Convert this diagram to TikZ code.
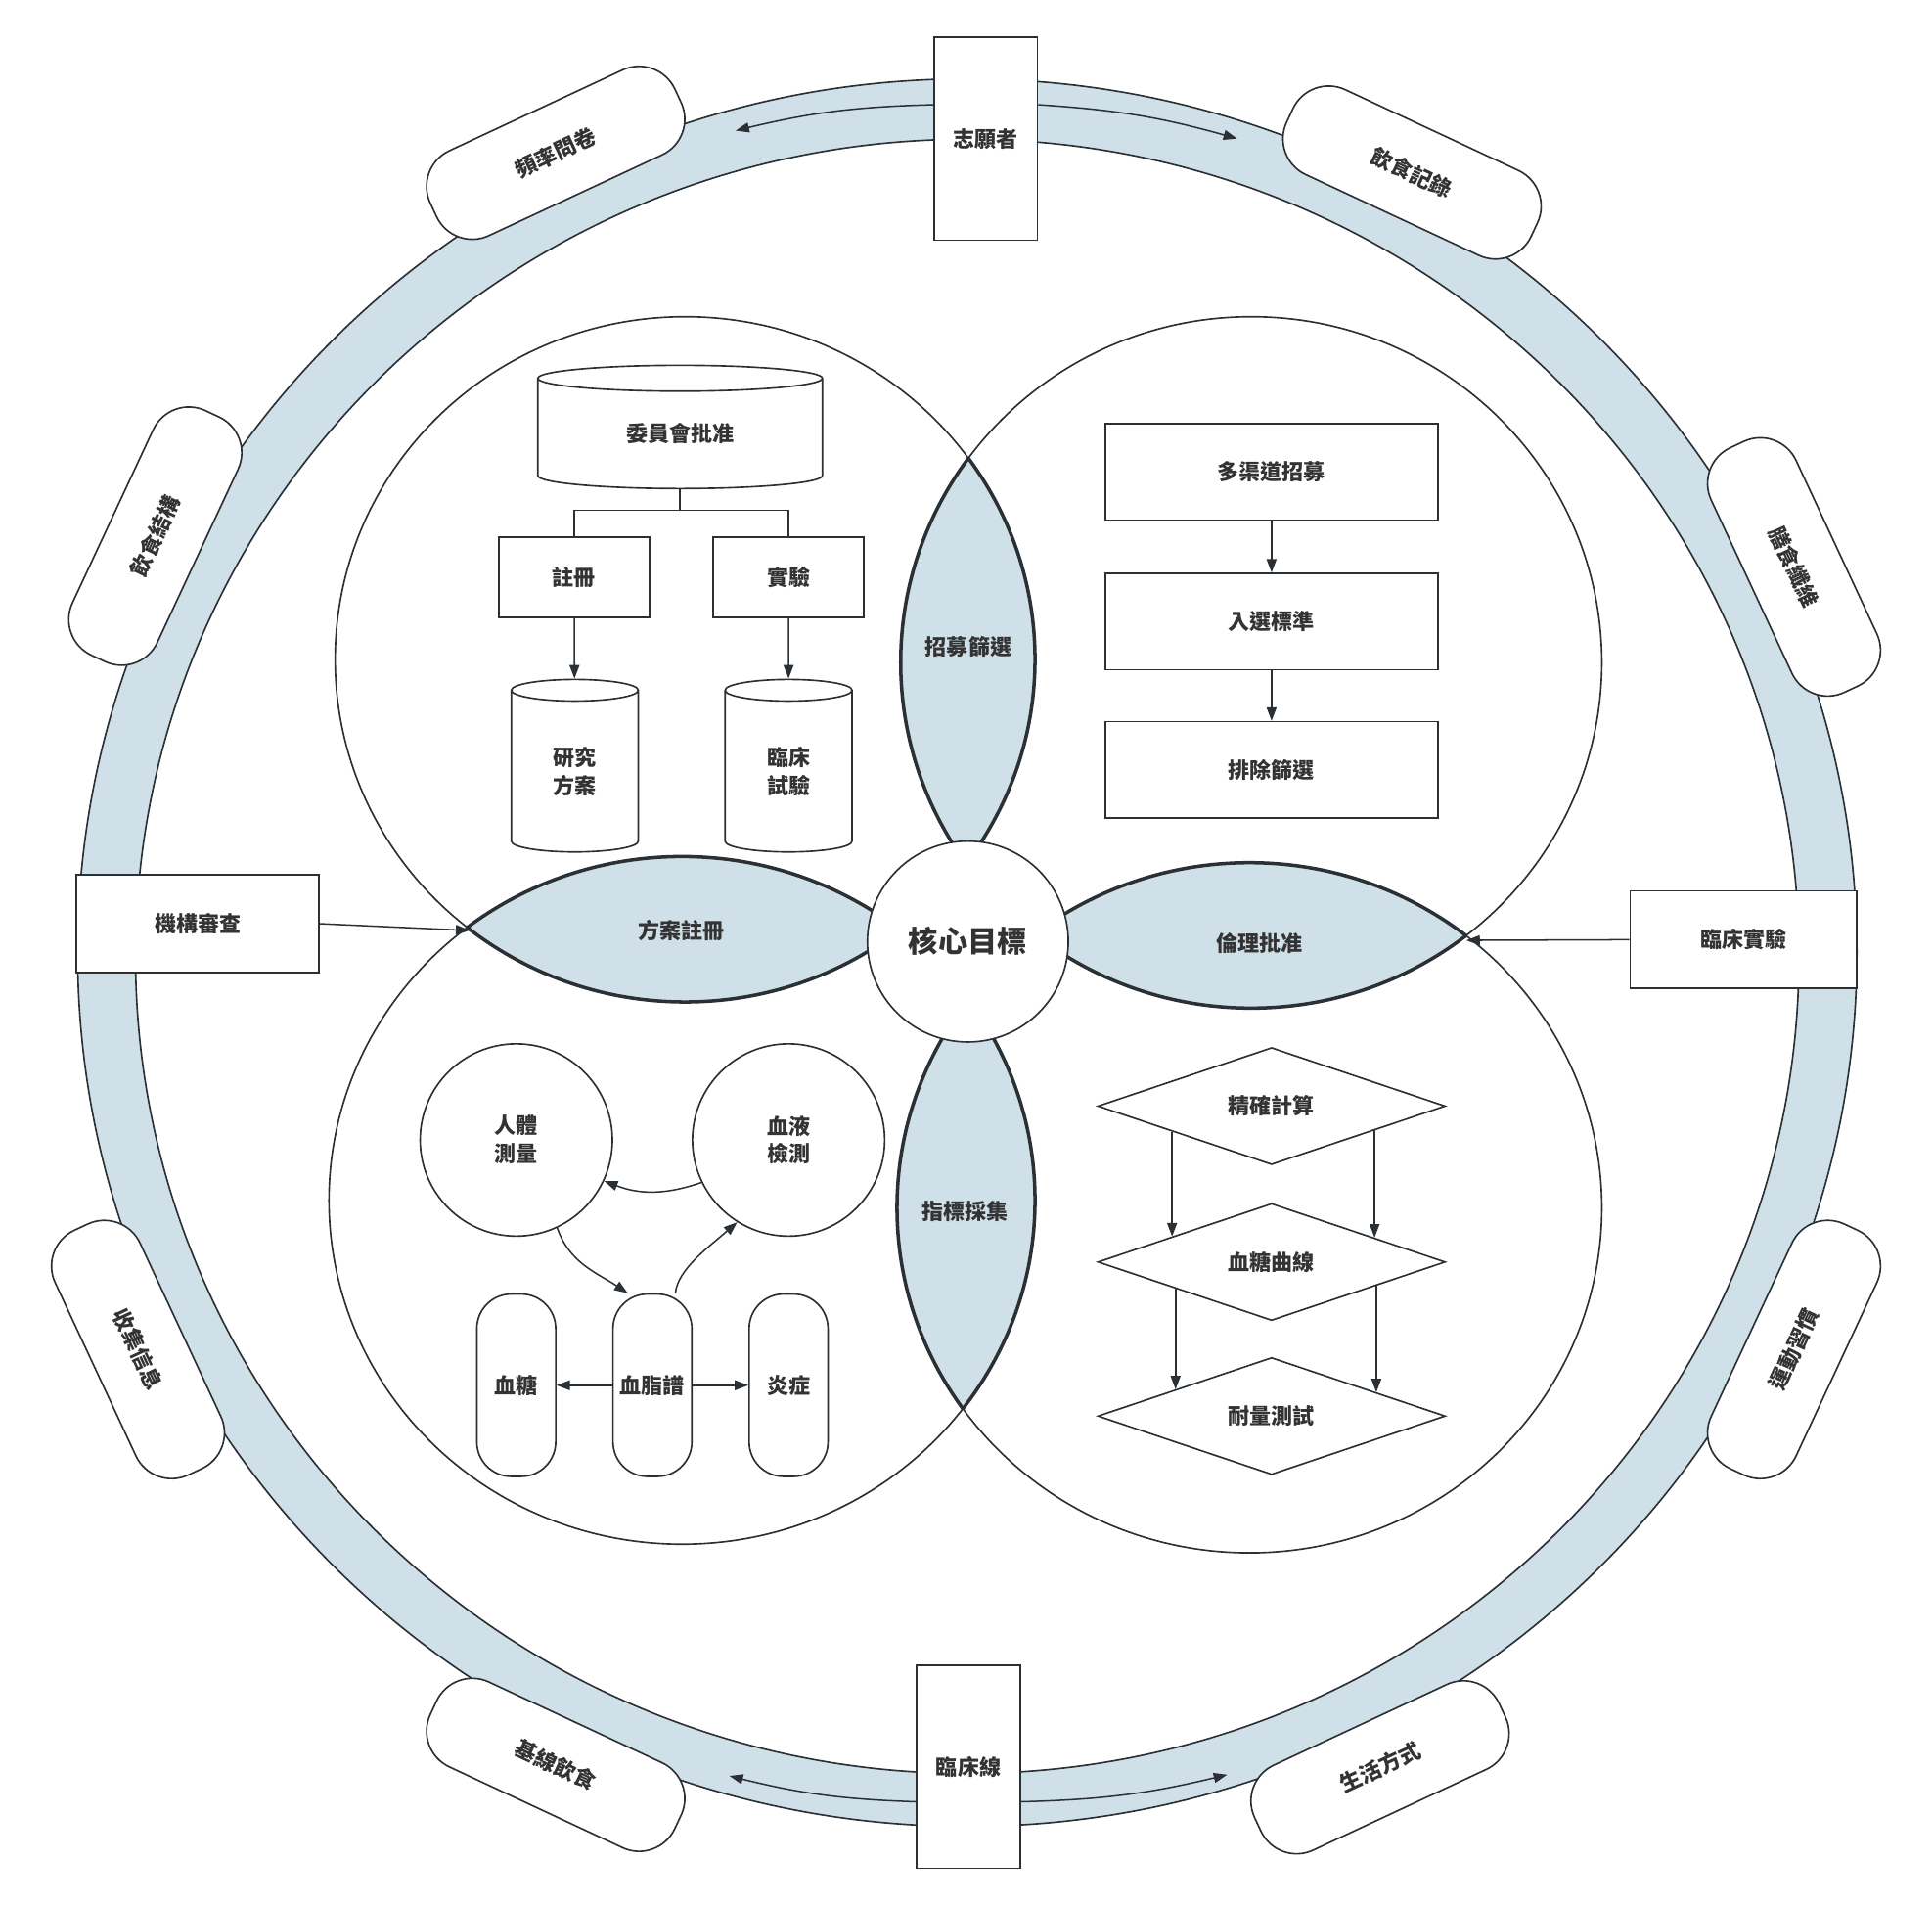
\documentclass[tikz,border=0pt]{standalone}
\usepackage{fontspec}
\setmainfont{Noto Sans CJK TC}
\usetikzlibrary{arrows.meta,positioning,calc,shapes.geometric}
\definecolor{edge}{HTML}{2B3034}
\definecolor{ink}{HTML}{333333}
\definecolor{band}{HTML}{CFE0E8}
\newcommand{\diagfont}{\fontsize{17.5}{23}\selectfont\bfseries}
\tikzset{
  base/.style={draw=edge, fill=white, line width=1.3pt, text=ink, font=\diagfont, align=center, inner sep=0pt},
  ring box/.style={base, minimum width=84pt, minimum height=165pt},
  side box/.style={base, minimum height=79pt},
  pill/.style={base, rounded corners=32pt, minimum width=219pt, minimum height=76pt},
  task box/.style={base, minimum width=270pt, minimum height=78pt},
  small box/.style={base, minimum width=122pt, minimum height=65pt},
  db/.style={base, cylinder, shape border rotate=90},
  blob/.style={base, circle, minimum size=156pt},
  capsule/.style={base, rounded corners=28pt, minimum width=64pt, minimum height=148pt},
  check/.style={base, diamond, minimum width=282pt, minimum height=95pt},
  lens label/.style={text=ink, font=\diagfont},
  flow/.style={-{Triangle[length=11pt,width=8pt]}, edge, line width=1.2pt},
  petal/.style={edge, line width=1.3pt},
  lens edge/.style={edge, line width=2.8pt},
  % the four big circles
  ptl/.style={insert path={(556,535) ellipse [x radius=284pt, y radius=278pt]}},
  ptr/.style={insert path={(1015.5,537.5) ellipse [x radius=284.5pt, y radius=280.5pt]}},
  pbl/.style={insert path={(553.5,974) ellipse [x radius=286.5pt, y radius=279pt]}},
  pbr/.style={insert path={(1014,980) ellipse [x radius=286pt, y radius=280pt]}},
}

\begin{document}
\begin{tikzpicture}[x=1pt, y=-1pt]
  \useasboundingbox (0,0) rectangle (1568,1546);

  % outer ring
  \fill[band, even odd rule] (785,773) ellipse [x radius=722pt, y radius=709pt]
                             (785,776) ellipse [x radius=675pt, y radius=663pt];
  \draw[petal] (785,773) ellipse [x radius=722pt, y radius=709pt]
               (785,776) ellipse [x radius=675pt, y radius=663pt];

  % boxes sitting on the ring
  \node[ring box] (volunteer) at (800,112.5) {志願者};
  \node[ring box] (clinline) at (786,1433.5) {臨床線};
  \node[side box, minimum width=197pt] (review) at (160.5,749.5) {機構審查};
  \node[side box, minimum width=184pt] (trial) at (1415,762.5) {臨床實驗};

  % arrows running along the ring
  \coordinate (ringNW) at (597,106);
  \coordinate (ringNE) at (1004,112.5);
  \coordinate (ringSW) at (592,1441);
  \coordinate (ringSE) at (996,1440);
  \draw[flow] (volunteer.west |- 0,85) to[bend right=6] (ringNW);
  \draw[flow] (volunteer.east |- 0,85) to[bend left=6] (ringNE);
  \draw[flow] (clinline.west |- 0,1462) to[bend left=6] (ringSW);
  \draw[flow] (clinline.east |- 0,1462) to[bend right=6] (ringSE);

  % pills, tangent to the ring
  \foreach \nm/\pos/\rot/\txt in {
      freq/{451,124}/25/頻率問卷, record/{1146,140}/-25/飲食記錄,
      structure/{126,435}/65/飲食結構, fibre/{1456,460}/-65/膳食纖維,
      collect/{112,1095}/-65/收集信息, habit/{1456,1095}/65/運動習慣,
      baseline/{451,1432}/-25/基線飲食, lifestyle/{1120,1434}/25/生活方式}
    \node[pill, rotate=\rot] (\nm) at (\pos) {\txt};

  % petals: lens fill and heavy lens edges
  \foreach \a/\b in {tl/tr,tl/bl,br/tr,br/bl} {
    \begin{scope}
      \clip[p\a];
      \fill[band, p\b];
      \draw[lens edge, p\b];
    \end{scope}
    \begin{scope}
      \clip[p\b];
      \draw[lens edge, p\a];
    \end{scope}
  }
  \foreach \a in {tl,tr,bl,br}
    \draw[petal, p\a];

  \node[lens label] (recruit) at (786,525) {招募篩選};
  \node[lens label] (register lens) at (553,755) {方案註冊};
  \node[lens label] (ethics) at (1022,765) {倫理批准};
  \node[lens label] (indicator) at (783,983) {指標採集};
  \coordinate (lensW) at (381,755);
  \coordinate (lensE) at (1190,763);
  \draw[flow] (review.east) -- (lensW);
  \draw[flow] (trial.west) -- (lensE);

  \node[base, circle, minimum size=163pt, font=\fontsize{24}{28}\selectfont\bfseries] (core) at (785.5,764) {核心目標};

  % top left: approval
  \node[db, minimum width=231pt, minimum height=100pt, aspect=.24] (committee) at (552,352) {委員會批准};
  \node[small box] (register) at (466,468.5) {註冊};
  \node[small box] (experiment) at (640,468.5) {實驗};
  \node[db, minimum width=103pt, minimum height=140pt, aspect=.5] (protocol) at (466.5,626) {研究\\方案};
  \node[db, minimum width=103pt, minimum height=140pt, aspect=.5] (clinical) at (640,626) {臨床\\試驗};
  \draw[petal] (committee.south) -- (committee.south |- 0,414) coordinate (fork) -| (register.north);
  \draw[petal] (fork) -| (experiment.north);
  \draw[flow] (register) -- (protocol);
  \draw[flow] (experiment) -- (clinical);

  % top right: recruitment
  \node[task box] (channels) at (1032,383) {多渠道招募};
  \node[task box, below=42pt of channels] (inclusion) {入選標準};
  \node[task box, below=41pt of inclusion] (exclusion) {排除篩選};
  \draw[flow] (channels) -- (inclusion);
  \draw[flow] (inclusion) -- (exclusion);

  % bottom left: measurements
  \node[blob] (body) at (419,925) {人體\\測量};
  \node[blob] (blood) at (640,925) {血液\\檢測};
  \node[capsule] (glucose) at (419,1124) {血糖};
  \node[capsule] (lipid) at (529.5,1124) {血脂譜};
  \node[capsule] (inflam) at (640,1124) {炎症};
  \draw[flow] (lipid) -- (glucose);
  \draw[flow] (lipid) -- (inflam);
  \draw[flow] (blood.206) to[bend left=20] (body.-25);
  \draw[flow] (body.-65) .. controls (462,1025) and (485,1033) .. (lipid.105);
  \draw[flow] (lipid.76) .. controls (550,1030) and (575,1012) .. (blood.238);

  % bottom right: glucose tests
  \node[check] (precise) at (1032,897.5) {精確計算};
  \node[check] (curve) at (1032,1024) {血糖曲線};
  \node[check] (tolerance) at (1032,1149) {耐量測試};
  \draw[flow] ($(precise.west)!.43!(precise.south)$) -- ($(curve.west)!.43!(curve.north)$);
  \draw[flow] ($(precise.east)!.41!(precise.south)$) -- ($(curve.east)!.41!(curve.north)$);
  \draw[flow] ($(curve.west)!.45!(curve.south)$) -- ($(tolerance.west)!.45!(tolerance.north)$);
  \draw[flow] ($(curve.east)!.4!(curve.south)$) -- ($(tolerance.east)!.4!(tolerance.north)$);
\end{tikzpicture}
\end{document}
